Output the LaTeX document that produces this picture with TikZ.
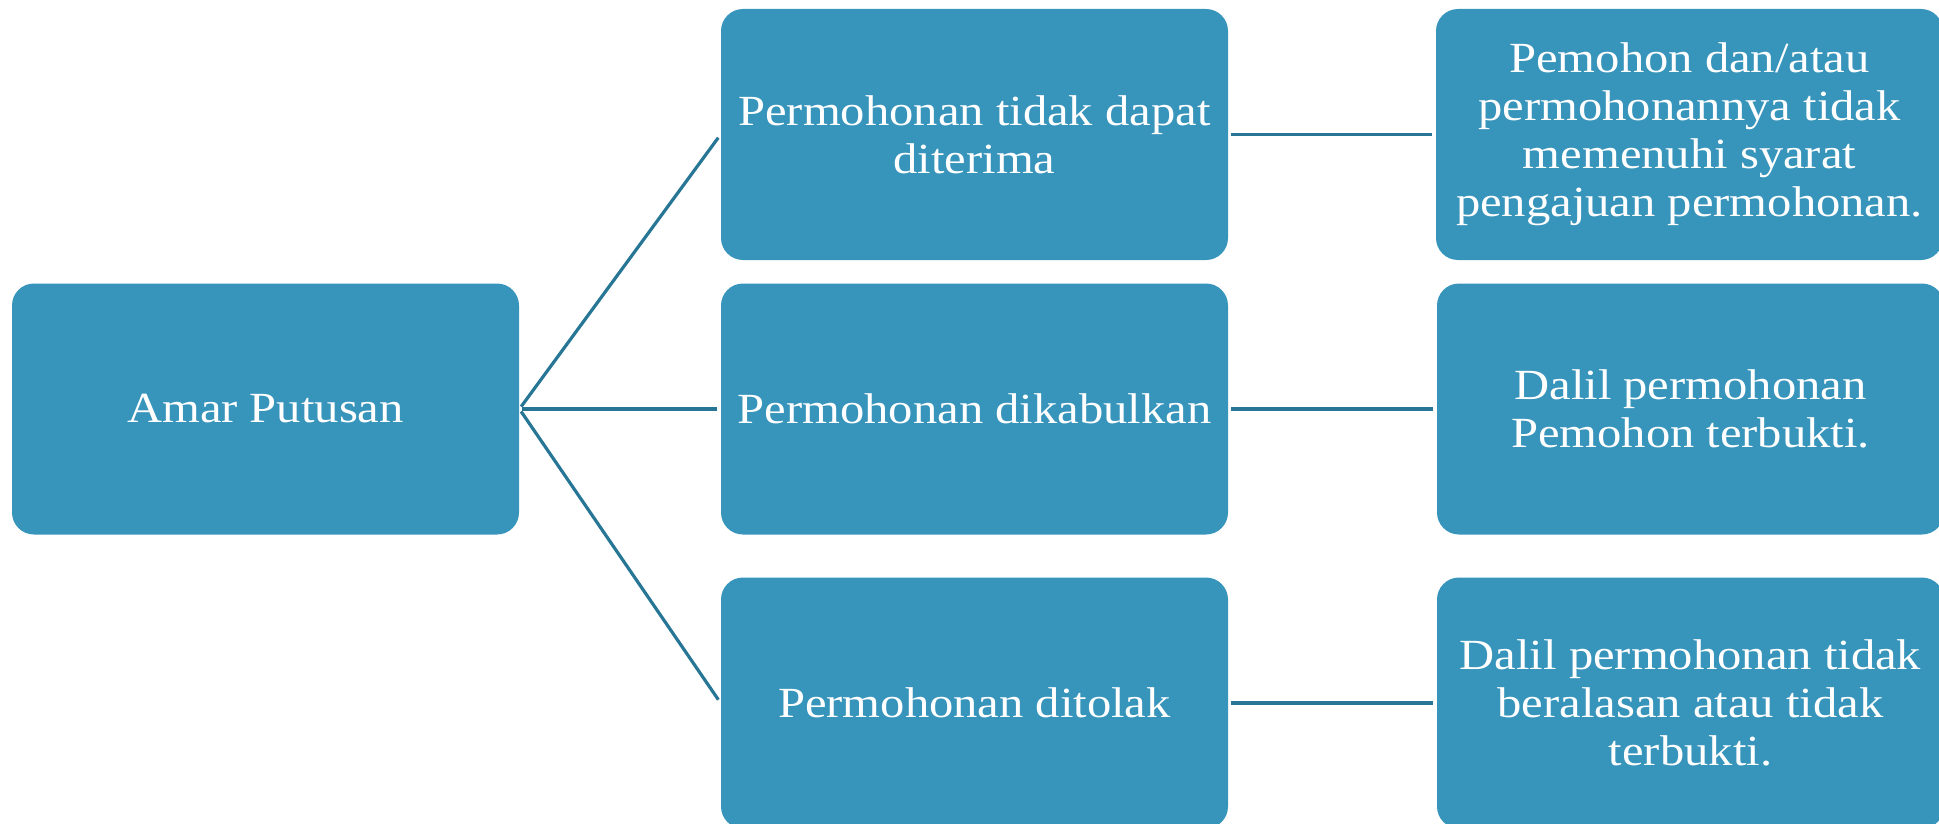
\documentclass[tikz,border=0pt]{standalone}
\usepackage{fontspec}
\setmainfont{Liberation Serif}[FakeStretch=1.13]
\definecolor{boxfill}{RGB}{55,148,187}
\definecolor{linecol}{RGB}{40,118,150}
\tikzset{
  box/.style={draw=none, fill=boxfill, rounded corners=11pt, minimum width=253.5pt, minimum height=125.5pt, text=white, align=center, font=\fontsize{21.5pt}{24pt}\selectfont, inner sep=0pt},
  conn/.style={draw=linecol, line width=1.6pt, shorten <=1.5pt, shorten >=2pt}
}
\begin{document}
\begin{tikzpicture}[x=0.5pt, y=-0.5pt]
\useasboundingbox (0,0) rectangle (1939,824);
\clip (0,0) rectangle (1939,824);
\node[box] (A) at (265.5,409) {Amar Putusan};
\node[box] (M1) at (974.5,134.5) {Permohonan tidak dapat\\diterima};
\node[box] (M2) at (974.5,409) {Permohonan dikabulkan};
\node[box] (M3) at (974.5,703) {Permohonan ditolak};
\node[box] (R1) at (1689.5,134.5) {Pemohon dan/atau\\permohonannya tidak\\memenuhi syarat\\pengajuan permohonan.};
\node[box] (R2) at (1690.5,409) {Dalil permohonan\\Pemohon terbukti.};
\node[box] (R3) at (1690.5,703) {Dalil permohonan tidak\\beralasan atau tidak\\terbukti.};
\draw[conn] (A.east) -- (M1.west);
\draw[conn] (A.east) -- (M2.west);
\draw[conn] (A.east) -- (M3.west);
\draw[conn] (M1.east) -- (R1.west);
\draw[conn] (M2.east) -- (R2.west);
\draw[conn] (M3.east) -- (R3.west);
\end{tikzpicture}
\end{document}
